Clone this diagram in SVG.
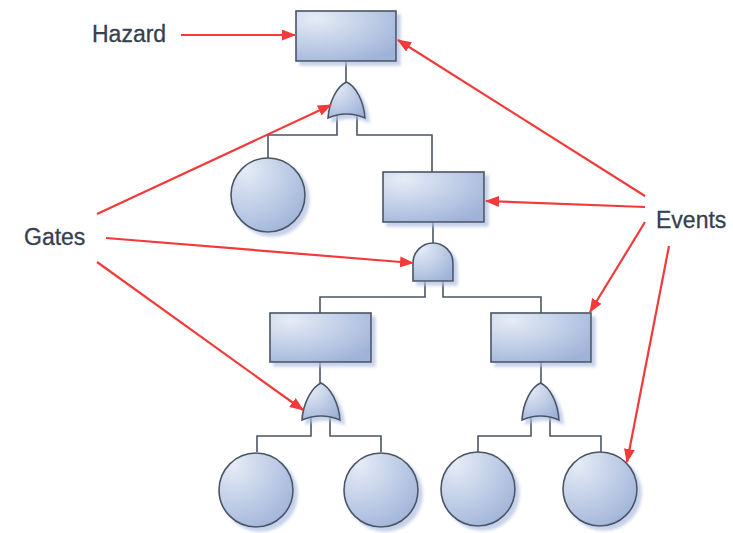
<svg xmlns="http://www.w3.org/2000/svg" width="733" height="533" viewBox="0 0 733 533">
<style>
.node{fill:url(#g);stroke:#4a5563;stroke-width:1.6;filter:url(#sh)}
.wire{fill:none;stroke:#4a5563;stroke-width:1.6}
.arr{fill:none;stroke:#f23a3a;stroke-width:2.2;marker-end:url(#ah)}
.lbl{font-family:"Liberation Sans",Arial,sans-serif;font-size:23px;fill:#36404e;stroke:#36404e;stroke-width:0.3}
</style>
<defs>
<radialGradient id="g" cx="0.2" cy="0.15" r="1">
<stop offset="0" stop-color="#e6ecf7"/>
<stop offset="1" stop-color="#9fb3d8"/>
</radialGradient>
<filter id="sh" x="-20%" y="-20%" width="150%" height="150%">
<feDropShadow dx="4" dy="4" stdDeviation="1.5" flood-color="#aebfe2" flood-opacity="0.7"/>
</filter>
<marker id="ah" viewBox="0 0 14 11" refX="13" refY="5.5" markerWidth="14" markerHeight="11" markerUnits="userSpaceOnUse" orient="auto">
<path d="M0,0 L14,5.5 L0,11 Z" fill="#f23a3a"/>
</marker>
</defs>

<g id="connectors">
<path class="wire" d="M346,61 V82"/>
<path class="wire" d="M337,114 V135 H268 V158"/>
<path class="wire" d="M357,114 V135 H432 V172"/>
<path class="wire" d="M433,222 V243"/>
<path class="wire" d="M425,281 V297 H320 V313"/>
<path class="wire" d="M443,281 V297 H541 V313"/>
<path class="wire" d="M320,362 V383"/>
<path class="wire" d="M541,362 V383"/>
<path class="wire" d="M311,417 V436 H257 V452"/>
<path class="wire" d="M330,417 V436 H381 V452"/>
<path class="wire" d="M531,417 V436 H478 V452"/>
<path class="wire" d="M550,417 V436 H601 V452"/>
</g>

<g id="hazard-event"><rect class="node" x="296" y="11" width="100" height="50"/></g>
<g id="or-gate-top"><path class="node" d="M346.5,82 C356,86 364,102 365,118 Q346.5,110 328,118 C329,102 337,86 346.5,82 Z"/></g>
<g id="basic-event-1"><circle class="node" cx="268" cy="195" r="37"/></g>
<g id="intermediate-event-1"><rect class="node" x="383" y="172" width="101" height="50"/></g>
<g id="and-gate"><path class="node" d="M413,281 V263 A20,20 0 0 1 453,263 V281 Z"/></g>
<g id="intermediate-event-2"><rect class="node" x="270" y="313" width="101" height="49"/></g>
<g id="intermediate-event-3"><rect class="node" x="491" y="313" width="100" height="49"/></g>
<g id="or-gate-left"><path class="node" d="M321,383 C330,387 339,403 340,420 Q321,412 302,420 C303,403 312,387 321,383 Z"/></g>
<g id="or-gate-right"><path class="node" d="M540.5,383 C550,387 558,403 559,420 Q540.5,412 522,420 C523,403 531,387 540.5,383 Z"/></g>
<g id="basic-event-2"><circle class="node" cx="256" cy="490" r="37"/></g>
<g id="basic-event-3"><circle class="node" cx="381" cy="490" r="37"/></g>
<g id="basic-event-4"><circle class="node" cx="478" cy="489" r="37"/></g>
<g id="basic-event-5"><circle class="node" cx="600" cy="489" r="37"/></g>

<g id="labels">
<text class="lbl" x="92" y="42">Hazard</text>
<text class="lbl" x="24" y="245">Gates</text>
<text class="lbl" x="656" y="228">Events</text>
</g>

<g id="annotation-arrows">
<path class="arr" d="M181,35 L295,35"/>
<path class="arr" d="M645,196 L398,40"/>
<path class="arr" d="M645,207 L486,201"/>
<path class="arr" d="M645,222 L590,312"/>
<path class="arr" d="M669,246 L627,462"/>
<path class="arr" d="M97,214 L331,105"/>
<path class="arr" d="M106,238 L413,263"/>
<path class="arr" d="M97,262 L303,410"/>
</g>
</svg>
